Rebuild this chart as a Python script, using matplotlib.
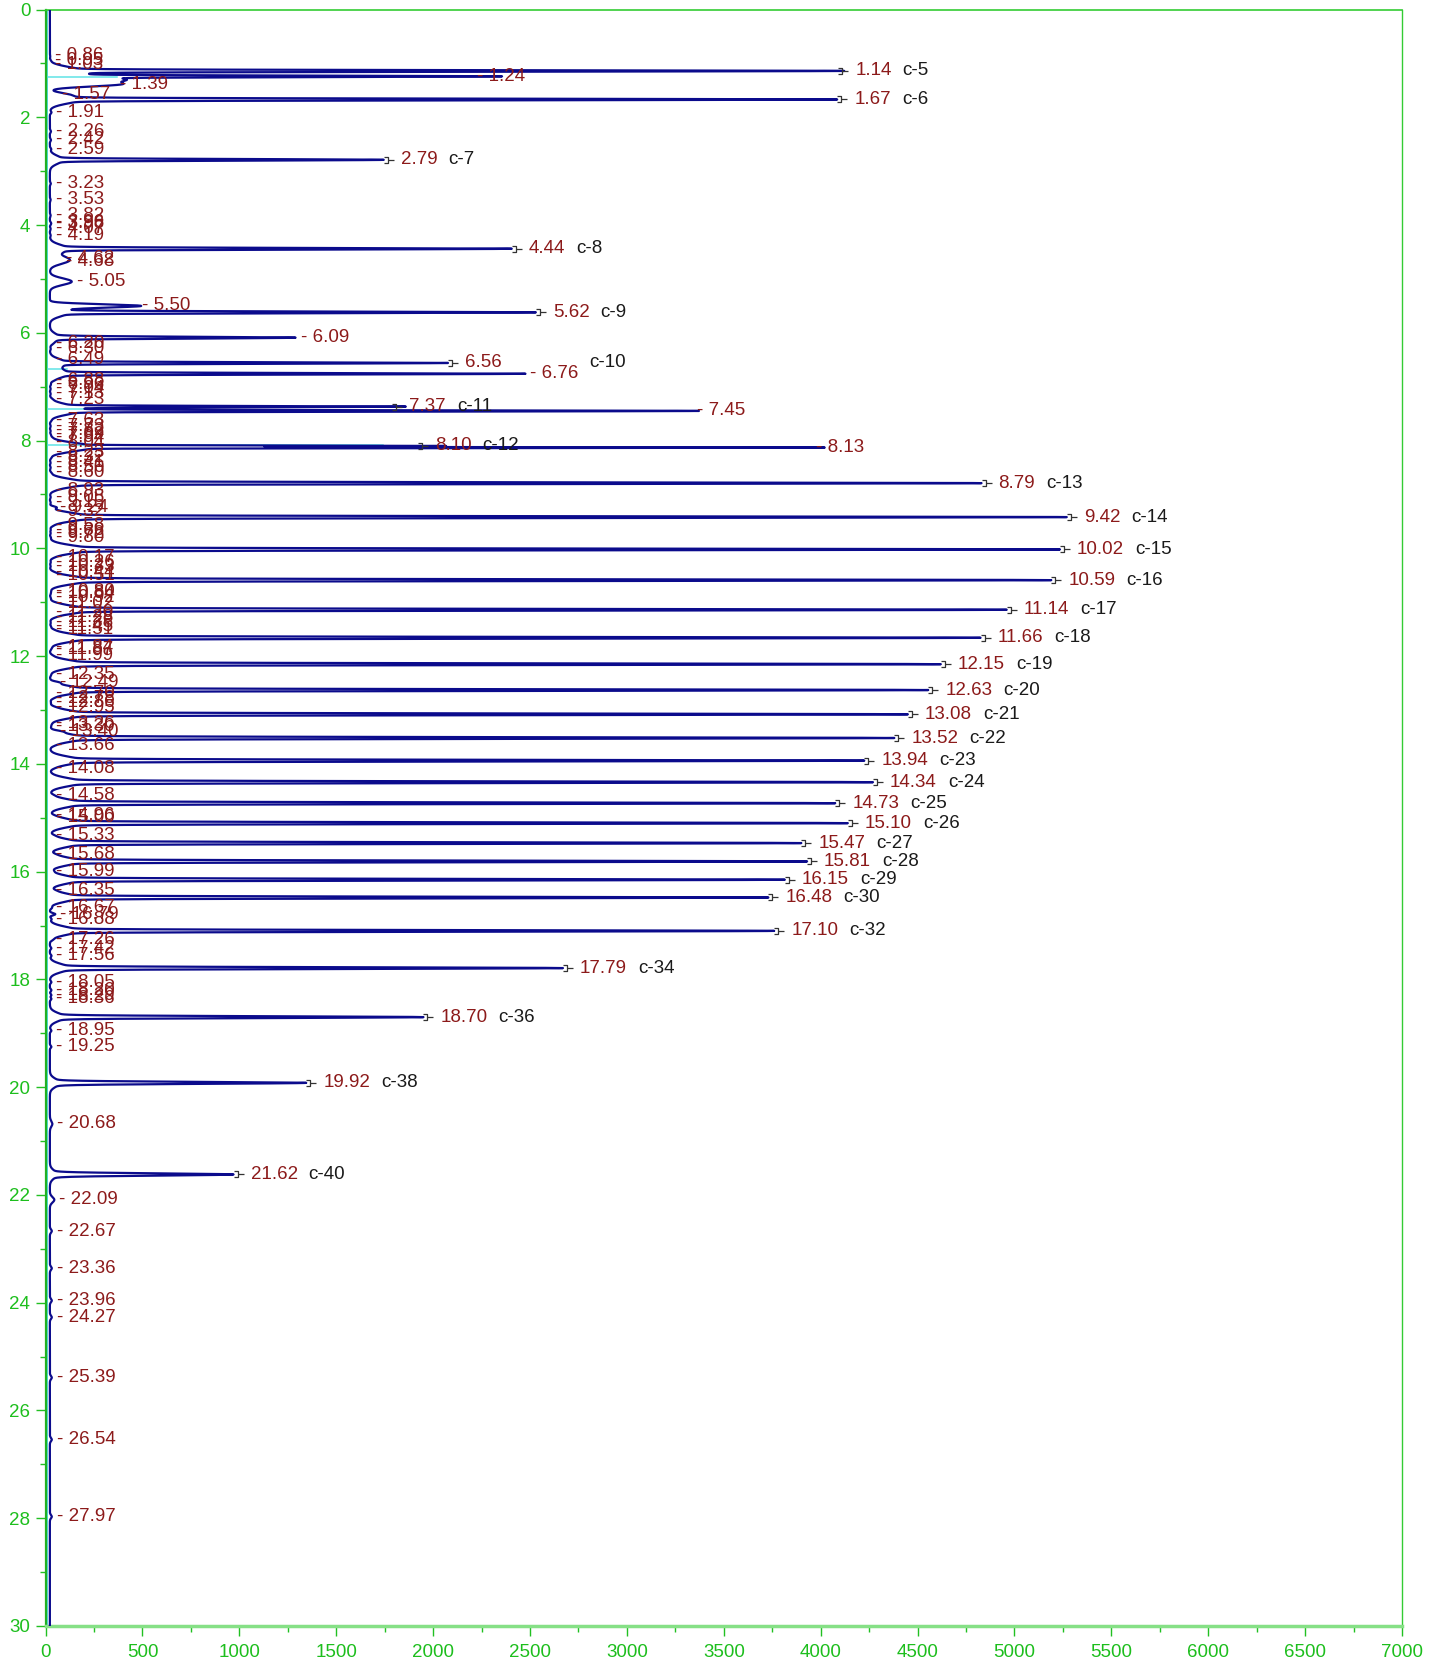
import numpy as np
import matplotlib
matplotlib.use("Agg")
import matplotlib.pyplot as plt
from matplotlib.path import Path

# ---------------- data ----------------
# named (integrated) peaks: retention time (min), apex intensity, compound name
named_times = [1.14, 1.67, 2.79, 4.44, 5.62, 6.56, 7.37, 8.10, 8.79, 9.42, 10.02,
               10.59, 11.14, 11.66, 12.15, 12.63, 13.08, 13.52, 13.94, 14.34, 14.73,
               15.10, 15.47, 15.81, 16.15, 16.48, 17.10, 17.79, 18.70, 19.92, 21.62]
named_heights = [4090, 4085, 1745, 2405, 2530, 2075, 1790, 1920, 4830, 5270, 5235,
                 5190, 4960, 4825, 4620, 4555, 4450, 4380, 4225, 4270, 4075,
                 4140, 3900, 3930, 3815, 3730, 3760, 2670, 1950, 1345, 970]
named_widths = [0.013, 0.014, 0.014, 0.014, 0.014, 0.013, 0.011, 0.008, 0.014, 0.014, 0.014,
                0.014, 0.014, 0.014, 0.014, 0.014, 0.014, 0.014, 0.014, 0.014, 0.014,
                0.014, 0.014, 0.014, 0.014, 0.014, 0.014, 0.015, 0.016, 0.018, 0.02]
named_labels = ["c-5", "c-6", "c-7", "c-8", "c-9", "c-10", "c-11", "c-12", "c-13", "c-14",
                "c-15", "c-16", "c-17", "c-18", "c-19", "c-20", "c-21", "c-22", "c-23",
                "c-24", "c-25", "c-26", "c-27", "c-28", "c-29", "c-30", "c-32", "c-34",
                "c-36", "c-38", "c-40"]

# other detected peaks: retention time, apex intensity, width
minor_times = [0.86, 0.95, 1.03, 1.24, 1.39, 1.57, 1.91, 2.26, 2.42, 2.59, 3.23, 3.53,
               3.82, 3.96, 3.98, 4.07, 4.19, 4.62, 4.68, 5.05, 5.50, 6.09, 6.20, 6.30,
               6.49, 6.76, 6.88, 6.96, 7.04, 7.13, 7.23, 7.45, 7.63, 7.73, 7.82, 7.89,
               7.94, 8.04, 8.13, 8.23, 8.32, 8.41, 8.50, 8.60, 8.93, 9.05, 9.15, 9.24,
               9.32, 9.58, 9.66, 9.72, 9.80, 10.17, 10.26, 10.33, 10.44, 10.51, 10.80,
               10.84, 10.92, 11.02, 11.20, 11.28, 11.38, 11.45, 11.51, 11.84, 11.87,
               11.99, 12.35, 12.49, 12.70, 12.78, 12.86, 12.95, 13.26, 13.30, 13.40,
               13.66, 14.08, 14.58, 14.96, 15.00, 15.33, 15.68, 15.99, 16.35, 16.67,
               16.79, 16.88, 17.26, 17.42, 17.56, 18.05, 18.20, 18.29, 18.36, 18.95,
               19.25, 20.68, 22.09, 22.67, 23.36, 23.96, 24.27, 25.39, 26.54, 27.97]
minor_heights = [24, 24, 24, 2200, 360, 60, 30, 28, 28, 28, 27, 26,
                 26, 26, 26, 26, 26, 80, 80, 135, 470, 1290, 26, 26,
                 26, 2475, 26, 26, 26, 26, 26, 3335, 26, 26, 26, 26,
                 26, 26, 3950, 26, 26, 26, 26, 26, 26, 26, 26, 50,
                 26, 26, 26, 26, 26, 26, 26, 26, 26, 26, 26,
                 26, 26, 26, 26, 26, 26, 26, 26, 26, 26,
                 26, 26, 50, 26, 26, 26, 26, 26, 26, 50,
                 26, 26, 28, 28, 28, 28, 28, 28, 28, 30,
                 50, 30, 30, 30, 30, 30, 30, 30, 30, 30,
                 30, 35, 45, 32, 32, 32, 32, 32, 32, 32]
minor_widths = [0.02, 0.02, 0.02, 0.012, 0.04, 0.03, 0.02, 0.02, 0.02, 0.02, 0.02, 0.02,
                0.02, 0.02, 0.02, 0.02, 0.02, 0.06, 0.06, 0.06, 0.03, 0.016, 0.02, 0.02,
                0.02, 0.013, 0.02, 0.02, 0.02, 0.02, 0.02, 0.011, 0.02, 0.02, 0.02, 0.02,
                0.02, 0.02, 0.008, 0.02, 0.02, 0.02, 0.02, 0.02, 0.02, 0.02, 0.02, 0.02,
                0.02, 0.02, 0.02, 0.02, 0.02, 0.02, 0.02, 0.02, 0.02, 0.02, 0.02,
                0.02, 0.02, 0.02, 0.02, 0.02, 0.02, 0.02, 0.02, 0.02, 0.02,
                0.02, 0.02, 0.02, 0.02, 0.02, 0.02, 0.02, 0.02, 0.02, 0.02,
                0.02, 0.02, 0.02, 0.02, 0.02, 0.02, 0.02, 0.02, 0.02, 0.02,
                0.02, 0.02, 0.02, 0.02, 0.02, 0.02, 0.02, 0.02, 0.02, 0.02,
                0.02, 0.05, 0.05, 0.03, 0.03, 0.03, 0.03, 0.03, 0.03, 0.03]

# unlabeled shoulder under the 1.24 / 1.39 hump
shoulder_times = [1.30]
shoulder_heights = [320]
shoulder_widths = [0.04]

baseline_level = 22
# integration baseline segments (cyan): time, right end intensity
cyan_times = [1.26, 6.67, 7.41, 8.08]
cyan_ends = [370, 110, 315, 1740]

x_ticks = list(range(0, 7001, 500))
y_ticks = list(range(0, 31, 2))

# ---------------- figure ----------------
W, H = 1431, 1663
fig = plt.figure(figsize=(W / 100, H / 100), dpi=100)
left, right, top, bottom = 45.6, 1402, 9.5, 1626
ax = fig.add_axes([left / W, 1 - bottom / H, (right - left) / W, (bottom - top) / H])

FONT = ["Liberation Sans", "DejaVu Sans"]
RED = "#8C1A1A"
GREEN = "#22C022"

# chromatogram trace
t = np.linspace(0, 30, 30001)
sig = np.full_like(t, float(baseline_level))


def add_peak(tc, apex, s, foot=True):
    amp = apex - baseline_level
    core = np.exp(-0.5 * ((t - tc) / s) ** 2)
    if foot:
        tail = np.exp(-0.5 * ((t - tc) / 0.07) ** 2)
        return amp * (0.96 * core + 0.04 * tail)
    return amp * core


for tc, h, s in zip(named_times, named_heights, named_widths):
    sig += add_peak(tc, h, s)
for tc, h, s in zip(minor_times, minor_heights, minor_widths):
    sig += add_peak(tc, h, s, foot=h > 500)
for tc, h, s in zip(shoulder_times, shoulder_heights, shoulder_widths):
    sig += add_peak(tc, h, s, foot=False)

# cyan baseline
ax.plot([6, 6], [0, 30], color="#3FD8DC", lw=1.3, zorder=2)
for ct, ce in zip(cyan_times, cyan_ends):
    ax.plot([6, ce], [ct, ct], color="#5FE3E6", lw=1.1, zorder=2)

ax.plot(sig, t, color="#0B0B8C", lw=1.6, zorder=3)

# bracket marker  "]-"
verts = [(0, 0.35), (0.55, 0.35), (0.55, -0.35), (0, -0.35), (0.55, 0), (1.2, 0)]
codes = [Path.MOVETO, Path.LINETO, Path.LINETO, Path.LINETO, Path.MOVETO, Path.LINETO]
bracket = Path(verts, codes)

name_extra = {"c-10": 77}
for tc, h, name in zip(named_times, named_heights, named_labels):
    ax.plot([h], [tc], marker=bracket, ms=14, mec="#333333", mfc="none", mew=0.9,
            linestyle="none", zorder=5)
    red = ax.annotate(f"{tc:.2f}", xy=(h, tc), xytext=(17, 0), textcoords="offset pixels",
                      color=RED, fontsize=13.5, va="center", ha="left", family=FONT, zorder=6)
    ax.annotate(name, xy=(1, 0.5), xycoords=red, xytext=(11 + name_extra.get(name, 0), 0),
                textcoords="offset pixels", color="#1A1A1A", fontsize=13.5,
                va="center", ha="left", family=FONT, zorder=6)

for tc, h in zip(minor_times, minor_heights):
    ax.annotate(f"- {tc:.2f}", xy=(h, tc), xytext=(5, 0), textcoords="offset pixels",
                color=RED, fontsize=13.5, va="center", ha="left", family=FONT, zorder=6)

# axes styling
ax.set_xlim(0, 7000)
ax.set_ylim(30, 0)
ax.set_xticks(x_ticks)
ax.set_yticks(y_ticks)
ax.set_xticks(np.arange(250, 7000, 500), minor=True)
ax.set_yticks(np.arange(1, 30, 2), minor=True)
ax.tick_params(which="major", direction="out", length=7, width=1.0, color=GREEN,
               labelcolor="#1DBE1D", labelsize=13.5, pad=4)
ax.tick_params(axis="x", which="major", pad=6)
ax.tick_params(which="minor", direction="out", length=4, width=1.0, color=GREEN)
for lbl in ax.get_xticklabels() + ax.get_yticklabels():
    lbl.set_family(FONT)

ax.spines["left"].set_color("#22B022")
ax.spines["left"].set_linewidth(1.6)
ax.spines["top"].set_color("#33CC33")
ax.spines["top"].set_linewidth(1.2)
ax.spines["right"].set_color("#33CC33")
ax.spines["right"].set_linewidth(1.0)
ax.spines["bottom"].set_color("#86E086")
ax.spines["bottom"].set_linewidth(2.5)

fig.savefig("out.png", dpi=100)
